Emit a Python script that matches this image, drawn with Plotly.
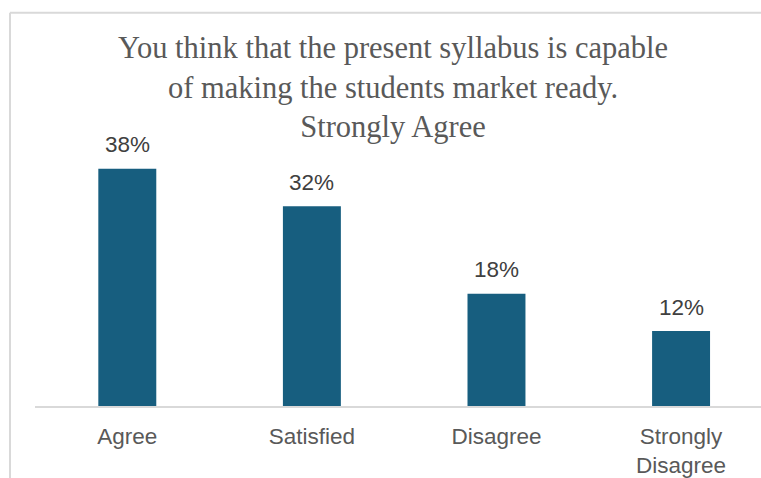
import plotly.graph_objects as go

categories = ['Agree', 'Satisfied', 'Disagree', 'Strongly<br>Disagree']
values = [38, 32, 18, 12]
labels = ['38%', '32%', '18%', '12%']
title_text = ('You think that the present syllabus is capable<br>'
              'of making the students market ready.<br>Strongly Agree')

W, H = 761, 478
ml, mr, mt, mb = 35, 0, 150, 68
pw, ph = W - ml - mr, H - mt - mb


def px(x):
    return (x - ml) / pw


def py(y):
    return (H - mb - y) / ph


fig = go.Figure()
fig.add_trace(go.Bar(
    x=list(range(len(categories))), y=values,
    marker=dict(color='#175E7F', line=dict(width=0)),
    width=0.314, hoverinfo='skip'
))

# data labels above the bars
for i, (v, t) in enumerate(zip(values, labels)):
    fig.add_annotation(
        x=i, y=v, text=t, showarrow=False, xanchor='center', yanchor='middle',
        yshift=24, font=dict(family='Liberation Sans', size=22.5, color='#404040')
    )

fig.add_annotation(
    text=title_text, xref='paper', yref='paper',
    x=px(393), y=py(87), xanchor='center', yanchor='middle',
    showarrow=False,
    font=dict(family='Liberation Serif', size=30.5, color='#595959')
)

fig.update_layout(
    width=W, height=H,
    margin=dict(l=ml, r=mr, t=mt, b=mb),
    plot_bgcolor='white', paper_bgcolor='white',
    showlegend=False,
    font=dict(family='Liberation Sans', color='#595959'),
    shapes=[
        dict(type='line', xref='paper', yref='paper', x0=px(10), x1=px(10),
             y0=py(10.5), y1=py(490), line=dict(color='#d9d9d9', width=2)),
        dict(type='line', xref='paper', yref='paper', x0=px(10), x1=px(770),
             y0=py(10.5), y1=py(10.5), line=dict(color='#d9d9d9', width=2)),
    ]
)
fig.update_xaxes(
    range=[-0.5, 3.433], tickmode='array',
    tickvals=list(range(len(categories))), ticktext=categories,
    showline=True, linecolor='#d9d9d9', linewidth=2,
    showgrid=False, zeroline=False, ticks='', ticklabelstandoff=9,
    tickfont=dict(family='Liberation Sans', size=22.5, color='#595959')
)
fig.update_yaxes(
    range=[0, 260 / 6.34], visible=False, showgrid=False, zeroline=False
)

fig.write_html(
    'out.html',
    config={'displayModeBar': False},
    post_script="document.body.style.margin='0';document.body.style.overflow='hidden';"
)
